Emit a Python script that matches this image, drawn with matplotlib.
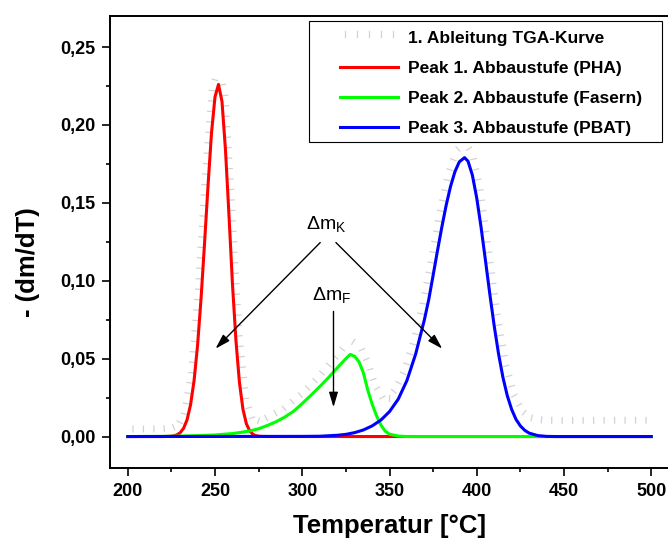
import numpy as np
import matplotlib.pyplot as plt
from matplotlib import patheffects
from matplotlib.patches import Rectangle

# values
tga_T = [200, 210, 220, 225, 230, 234, 238, 242, 246, 250, 252, 254, 258, 262, 266, 270,
         275, 280, 290, 300, 310, 320, 325, 328, 332, 336, 340, 345, 350, 355, 360, 365,
         370, 375, 380, 385, 390, 393, 396, 400, 405, 410, 415, 420, 425, 430, 435, 440,
         450, 460, 480, 500]
tga_v = [0.0030, 0.0030, 0.0031, 0.0035, 0.0057, 0.0142, 0.0394, 0.0922, 0.1648, 0.2220,
         0.2302, 0.2193, 0.1466, 0.0667, 0.0235, 0.0100, 0.0082, 0.0101, 0.0160, 0.0252,
         0.0362, 0.0493, 0.0561, 0.0595, 0.0567, 0.0467, 0.0328, 0.0231, 0.0227, 0.0296,
         0.0415, 0.0586, 0.0808, 0.1093, 0.1405, 0.1669, 0.1829, 0.1860, 0.1806, 0.1600,
         0.1202, 0.0785, 0.0458, 0.0254, 0.0150, 0.0105, 0.0091, 0.0086, 0.0085, 0.0085,
         0.0086, 0.0086]

pha_T = [200, 220, 224, 226, 228, 230, 232, 234, 236, 238, 240, 242, 244, 246, 248, 250,
         252, 254, 256, 258, 260, 262, 264, 266, 268, 270, 272, 274, 276, 280, 500]
pha_v = [0.0, 0.0, 0.0001, 0.0004, 0.0010, 0.0024, 0.0053, 0.0108, 0.0205, 0.0359, 0.0585,
         0.0885, 0.124, 0.161, 0.195, 0.218, 0.226, 0.215, 0.184, 0.142, 0.098, 0.0616,
         0.0347, 0.0176, 0.0081, 0.0034, 0.0012, 0.0004, 0.0001, 0.0, 0.0]

fas_T = [200, 220, 230, 240, 250, 260, 265, 270, 275, 280, 285, 290, 295, 300, 305, 310,
         315, 320, 322.5, 325, 327.5, 330, 332.5, 335, 337.5, 340, 342.5, 345, 347.5, 350,
         355, 360, 500]
fas_v = [0.0, 0.0001, 0.0003, 0.0006, 0.0010, 0.0019, 0.0027, 0.0036, 0.0050, 0.0071,
         0.0095, 0.0125, 0.0162, 0.0212, 0.0265, 0.0320, 0.0378, 0.0440, 0.0470, 0.0500,
         0.0527, 0.0515, 0.0480, 0.0410, 0.0300, 0.0210, 0.0135, 0.0075, 0.0035, 0.0015,
         0.0003, 0.0, 0.0]

pbat_T = [200, 300, 310, 320, 325, 330, 335, 340, 345, 350, 355, 360, 365, 370, 372.5, 375,
          377.5, 380, 382.5, 385, 387.5, 390, 393, 395, 397.5, 400, 402.5, 405, 407.5, 410,
          412.5, 415, 417.5, 420, 422.5, 425, 427.5, 430, 435, 440, 445, 500]
pbat_v = [0.0, 0.0001, 0.0002, 0.0008, 0.0014, 0.0025, 0.0042, 0.0068, 0.0105, 0.0160,
          0.0240, 0.0360, 0.0530, 0.0750, 0.0880, 0.1035, 0.1193, 0.1345, 0.1486, 0.1606,
          0.1700, 0.1763, 0.1790, 0.1767, 0.1677, 0.1530, 0.1341, 0.1129, 0.0913, 0.0710,
          0.0530, 0.0380, 0.0262, 0.0174, 0.0110, 0.0068, 0.0040, 0.0022, 0.0006, 0.0001,
          0.0, 0.0]

labels = ['1. Ableitung TGA-Kurve', 'Peak 1. Abbaustufe (PHA)',
          'Peak 2. Abbaustufe (Fasern)', 'Peak 3. Abbaustufe (PBAT)']

xticks = [200, 250, 300, 350, 400, 450, 500]
xminor = [225, 275, 325, 375, 425, 475]
yticks = [0.0, 0.05, 0.10, 0.15, 0.20, 0.25]
yminor = [0.025, 0.075, 0.125, 0.175, 0.225]
yticklabels = ['0,00', '0,05', '0,10', '0,15', '0,20', '0,25']

plt.rcParams['font.family'] = ['Liberation Sans', 'DejaVu Sans']
plt.rcParams['mathtext.fontset'] = 'custom'
plt.rcParams['mathtext.rm'] = 'Liberation Sans'
plt.rcParams['mathtext.it'] = 'Liberation Sans'
plt.rcParams['mathtext.default'] = 'regular'

fig = plt.figure(figsize=(6.68, 5.41), dpi=100)
ax = fig.add_axes([0.1654, 0.1355, 0.8346, 0.8355])

tick_fx = [patheffects.TickedStroke(spacing=7.5, angle=90, length=0.55)]
l0, = ax.plot(tga_T, tga_v, color='#d2d2d2', lw=0.9, path_effects=tick_fx)
l1, = ax.plot(pha_T, pha_v, color='#ff0000', lw=2.2)
l2, = ax.plot(fas_T, fas_v, color='#00ff00', lw=2.2)
l3, = ax.plot(pbat_T, pbat_v, color='#0000ff', lw=2.2)

ax.set_xlim(190.1, 509.6)
ax.set_ylim(-0.02, 0.2701)

ax.set_xticks(xticks)
ax.set_xticks(xminor, minor=True)
ax.set_yticks(yticks)
ax.set_yticks(yminor, minor=True)
ax.set_yticklabels(yticklabels)
ax.tick_params(which='major', direction='out', length=6, width=1.2, labelsize=13, pad=5)
ax.tick_params(which='minor', direction='out', length=3, width=1.2)
for lab in ax.get_xticklabels() + ax.get_yticklabels():
    lab.set_fontweight('bold')

ax.spines['right'].set_visible(False)
for s in ['left', 'bottom', 'top']:
    ax.spines[s].set_linewidth(1.4)

ax.set_xlabel('Temperatur [°C]', fontsize=18.5, fontweight='bold', labelpad=10)
ax.set_ylabel('- (dm/dT)', fontsize=18.5, fontweight='bold')
ax.yaxis.set_label_coords(-0.126, 0.455)

# legend frame drawn separately so the padding matches the original
ax.add_patch(Rectangle((0.3566, 0.7212), 0.6321, 0.2671, transform=ax.transAxes,
                       facecolor='white', edgecolor='black', lw=0.8, zorder=4))
leg = ax.legend([l0, l1, l2, l3], labels, loc='upper left',
                bbox_to_anchor=(0.4117, 0.9666), borderaxespad=0, borderpad=0,
                prop={'weight': 'bold', 'size': 12.5}, frameon=False,
                labelspacing=0.85, handlelength=3.34, handletextpad=0.58)
leg.set_zorder(5)

arrow = dict(arrowstyle='-|>,head_length=0.9,head_width=0.27', color='black', lw=1.0,
             shrinkA=0, shrinkB=0, mutation_scale=10)
ax.annotate('', xy=(250.3, 0.0564), xytext=(310.3, 0.1245), arrowprops=arrow)
ax.annotate('', xy=(380.2, 0.0564), xytext=(319.3, 0.1245), arrowprops=arrow)
ax.annotate('', xy=(317.9, 0.0188), xytext=(317.9, 0.0803), arrowprops=arrow)
ax.text(302.3, 0.1335, 'Δm$_K$', fontsize=14)
ax.text(305.5, 0.0874, 'Δm$_F$', fontsize=14)

fig.savefig('out.png', dpi=100)
